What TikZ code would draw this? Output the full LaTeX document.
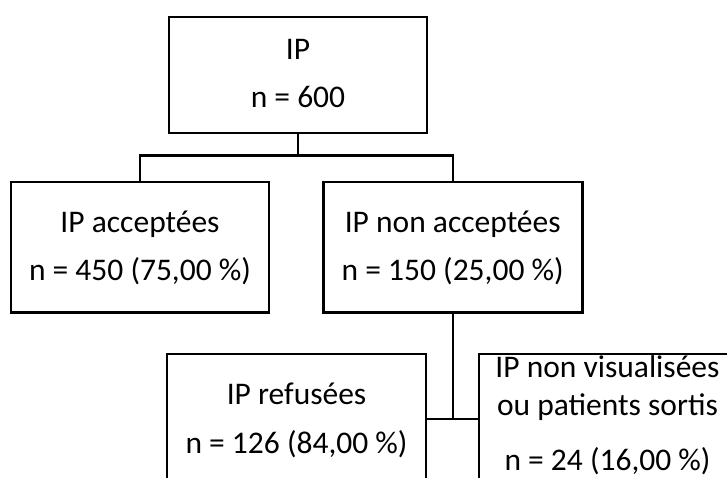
\documentclass[tikz,border=0pt]{standalone}
\usepackage{fontspec}
\setmainfont{Carlito}
\begin{document}
\begin{tikzpicture}[x=1pt,y=-1pt,
  box/.style={draw, line width=2.6pt, rectangle, inner sep=0pt, outer sep=0pt},
  conn/.style={draw, line width=2.4pt},
  lbl/.style={anchor=base, inner sep=0pt, font=\fontsize{31.5}{38}\selectfont}]
\useasboundingbox (0,0) rectangle (727,478);
\clip (0,0) rectangle (727,478);
% boxes
\node[box, minimum width=258pt, minimum height=116pt] (top) at (298,75) {};
\node[box, minimum width=258pt, minimum height=130.5pt] (acc) at (140,247.2) {};
\node[box, minimum width=259pt, minimum height=130.5pt] (nacc) at (452.7,247.2) {};
\node[box, minimum width=259pt, minimum height=130pt] (ref) at (296.5,419) {};
\node[box, minimum width=259pt, minimum height=130pt] (nvis) at (608.5,419) {};
% texts
\node[lbl] (t1) at (298,60) {IP};
\node[lbl] (t2) at (298,108) {n = 600};
\node[lbl] (t3) at (140,232) {IP acceptées};
\node[lbl] (t4) at (140,280) {n = 450 (75,00 \%)};
\node[lbl] (t5) at (452.7,232) {IP non acceptées};
\node[lbl] (t6) at (452.7,280) {n = 150 (25,00 \%)};
\node[lbl] (t7) at (296.5,404) {IP refusées};
\node[lbl] (t8) at (296.5,453) {n = 126 (84,00 \%)};
\node[lbl] (t9) at (607.5,377) {IP non visualisées};
\node[lbl] (t10) at (607.5,415) {ou patients sortis};
\node[lbl] (t11) at (607.5,470) {n = 24 (16,00 \%)};
% connectors
\coordinate (bar) at (0,155.7);
\draw[conn] (top.south) -- (top.south |- bar);
\draw[conn] (acc.north) -- (acc.north |- bar) -- (nacc.north |- bar) -- (nacc.north);
\draw[conn] (nacc.south) -- (nacc.south |- ref.east);
\draw[conn] (ref.east) -- (nvis.west);
\end{tikzpicture}
\end{document}
